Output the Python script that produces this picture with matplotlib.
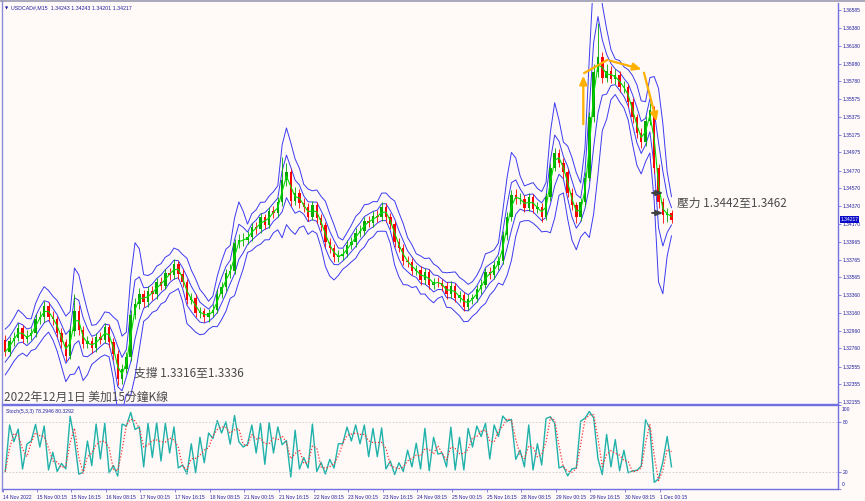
import numpy as np
import pandas as pd
import matplotlib
matplotlib.use('Agg')
import matplotlib.pyplot as plt
import matplotlib.transforms as mtransforms

first_open = 1.3285
closes = [1.3272, 1.3284, 1.3288, 1.3299, 1.3287, 1.3290, 1.3293, 1.3309, 1.3311, 1.3324,
          1.3312, 1.3309, 1.3294, 1.3283, 1.3268, 1.3296, 1.3318, 1.3297, 1.3281, 1.3284,
          1.3276, 1.3289, 1.3286, 1.3300, 1.3283, 1.3270, 1.3241, 1.3253, 1.3266, 1.3314,
          1.3326, 1.3338, 1.3328, 1.3341, 1.3337, 1.3351, 1.3347, 1.3361, 1.3359, 1.3371,
          1.3360, 1.3351, 1.3331, 1.3333, 1.3316, 1.3318, 1.3311, 1.3316, 1.3320, 1.3338,
          1.3345, 1.3361, 1.3364, 1.3395, 1.3398, 1.3399, 1.3402, 1.3413, 1.3411, 1.3424,
          1.3416, 1.3431, 1.3429, 1.3441, 1.3466, 1.3475, 1.3443, 1.3452, 1.3440, 1.3436,
          1.3425, 1.3438, 1.3423, 1.3415, 1.3396, 1.3390, 1.3379, 1.3381, 1.3383, 1.3393,
          1.3396, 1.3407, 1.3409, 1.3420, 1.3418, 1.3426, 1.3424, 1.3436, 1.3424, 1.3417,
          1.3396, 1.3390, 1.3375, 1.3374, 1.3364, 1.3365, 1.3353, 1.3362, 1.3348, 1.3351,
          1.3350, 1.3347, 1.3337, 1.3347, 1.3333, 1.3336, 1.3323, 1.3332, 1.3332, 1.3343,
          1.3348, 1.3362, 1.3359, 1.3370, 1.3375, 1.3404, 1.3424, 1.3449, 1.3445, 1.3445,
          1.3435, 1.3447, 1.3434, 1.3436, 1.3425, 1.3447, 1.3480, 1.3497, 1.3486, 1.3475,
          1.3452, 1.3438, 1.3424, 1.3441, 1.3469, 1.3537, 1.3588, 1.3605, 1.3582, 1.3590,
          1.3581, 1.3585, 1.3571, 1.3571, 1.3554, 1.3537, 1.3520, 1.3509, 1.3533, 1.3546,
          1.3480, 1.3441, 1.3427, 1.3429, 1.34217]
highs = [1.3291, 1.3289, 1.3295, 1.3305, 1.3303, 1.3297, 1.3299, 1.3315, 1.3318, 1.3330,
         1.3329, 1.3318, 1.3313, 1.3299, 1.3287, 1.3301, 1.3338, 1.3325, 1.3301, 1.3290,
         1.3289, 1.3294, 1.3295, 1.3305, 1.3304, 1.3288, 1.3274, 1.3258, 1.3272, 1.3319,
         1.3333, 1.3344, 1.3342, 1.3346, 1.3347, 1.3356, 1.3357, 1.3366, 1.3367, 1.3377,
         1.3375, 1.3366, 1.3354, 1.3339, 1.3337, 1.3323, 1.3322, 1.3321, 1.3326, 1.3343,
         1.3351, 1.3366, 1.3371, 1.3400, 1.3405, 1.3406, 1.3409, 1.3418, 1.3419, 1.3429,
         1.3428, 1.3436, 1.3437, 1.3447, 1.3492, 1.3486, 1.3479, 1.3458, 1.3456, 1.3446,
         1.3440, 1.3443, 1.3442, 1.3428, 1.3419, 1.3401, 1.3394, 1.3387, 1.3389, 1.3398,
         1.3402, 1.3412, 1.3415, 1.3425, 1.3426, 1.3431, 1.3432, 1.3442, 1.3440, 1.3429,
         1.3420, 1.3401, 1.3394, 1.3381, 1.3378, 1.3370, 1.3369, 1.3367, 1.3366, 1.3356,
         1.3357, 1.3355, 1.3351, 1.3352, 1.3350, 1.3341, 1.3340, 1.3337, 1.3338, 1.3348,
         1.3354, 1.3367, 1.3368, 1.3375, 1.3381, 1.3409, 1.3430, 1.3455, 1.3456, 1.3452,
         1.3449, 1.3452, 1.3451, 1.3442, 1.3440, 1.3452, 1.3486, 1.3503, 1.3501, 1.3491,
         1.3479, 1.3457, 1.3442, 1.3446, 1.3475, 1.3543, 1.3598, 1.3644, 1.3611, 1.3597,
         1.3595, 1.3592, 1.3589, 1.3578, 1.3575, 1.3559, 1.3541, 1.3525, 1.3539, 1.3553,
         1.3550, 1.3485, 1.3446, 1.3435, 1.3432]
lows = [1.3267, 1.3268, 1.3279, 1.3284, 1.3282, 1.3282, 1.3285, 1.3289, 1.3304, 1.3306,
        1.3307, 1.3302, 1.3289, 1.3276, 1.3262, 1.3264, 1.3290, 1.3291, 1.3276, 1.3276,
        1.3271, 1.3272, 1.3281, 1.3282, 1.3278, 1.3263, 1.3235, 1.3236, 1.3248, 1.3262,
        1.3309, 1.3321, 1.3323, 1.3323, 1.3331, 1.3332, 1.3342, 1.3343, 1.3353, 1.3354,
        1.3355, 1.3345, 1.3326, 1.3326, 1.3311, 1.3310, 1.3306, 1.3306, 1.3311, 1.3316,
        1.3333, 1.3341, 1.3356, 1.3360, 1.3389, 1.3392, 1.3394, 1.3397, 1.3405, 1.3406,
        1.3411, 1.3412, 1.3423, 1.3424, 1.3437, 1.3460, 1.3437, 1.3438, 1.3435, 1.3430,
        1.3420, 1.3421, 1.3418, 1.3409, 1.3391, 1.3384, 1.3374, 1.3374, 1.3376, 1.3379,
        1.3388, 1.3391, 1.3402, 1.3404, 1.3413, 1.3413, 1.3419, 1.3420, 1.3419, 1.3411,
        1.3391, 1.3385, 1.3370, 1.3368, 1.3359, 1.3359, 1.3348, 1.3349, 1.3343, 1.3343,
        1.3345, 1.3341, 1.3332, 1.3333, 1.3328, 1.3328, 1.3318, 1.3319, 1.3326, 1.3328,
        1.3338, 1.3344, 1.3354, 1.3354, 1.3365, 1.3371, 1.3399, 1.3420, 1.3439, 1.3439,
        1.3430, 1.3431, 1.3429, 1.3429, 1.3419, 1.3421, 1.3443, 1.3476, 1.3481, 1.3469,
        1.3447, 1.3432, 1.3418, 1.3420, 1.3437, 1.3465, 1.3532, 1.3583, 1.3576, 1.3577,
        1.3576, 1.3575, 1.3566, 1.3565, 1.3549, 1.3531, 1.3514, 1.3503, 1.3505, 1.3528,
        1.3474, 1.3435, 1.3418, 1.3419, 1.3418]

price_ticks = [1.36585, 1.36380, 1.36180, 1.35980, 1.35780, 1.35575, 1.35375, 1.35175,
               1.34975, 1.34770, 1.34570, 1.34370, 1.34170, 1.33965, 1.33765, 1.33565,
               1.33360, 1.33160, 1.32960, 1.32760, 1.32555, 1.32355, 1.32155]
time_labels = ['15 Nov 00:15', '15 Nov 16:15', '16 Nov 08:15', '17 Nov 00:15', '17 Nov 16:15',
               '18 Nov 08:15', '21 Nov 00:15', '21 Nov 16:15', '22 Nov 08:15', '23 Nov 00:15',
               '23 Nov 16:15', '24 Nov 08:15', '25 Nov 00:15', '25 Nov 16:15', '28 Nov 08:15',
               '29 Nov 00:15', '29 Nov 16:15', '30 Nov 08:15', '1 Dec 00:15']

BARS = 8          # M15 bars per drawn candle
FIRST_LABEL = 62  # bar index of 15 Nov 00:15
LABEL_STEP = 64

bg = '#fffaf8'
axcol = '#7070e0'
txtcol = '#2020a0'
cjk = ['Noto Sans CJK TC', 'DejaVu Sans']

c = pd.Series(closes)
h = pd.Series(highs)
l = pd.Series(lows)
o = c.shift(1).fillna(first_open)
n = len(c)
x = np.arange(n) * BARS + BARS / 2

# bands from high/low/close of the last 3 candles
hlc = np.column_stack([highs, lows, closes])
mid = c.rolling(2, min_periods=1).mean().values
sd = np.array([hlc[max(0, i - 2):i + 1].std() for i in range(n)])
ma = c.rolling(2, min_periods=1).mean()

# stochastic: close position inside each candle's range, so it swings like the M15 one
k = 100 * (c - l) / (h - l)
d = k.rolling(2, min_periods=1).mean()

fig = plt.figure(figsize=(8.65, 5.01), dpi=100, facecolor=bg)
W, H = 865, 501
left, right = 2, 838
ax = fig.add_axes([left / W, (H - 404) / H, (right - left) / W, 401 / H], facecolor=bg)
ax2 = fig.add_axes([left / W, (H - 489) / H, (right - left) / W, 84 / H], facecolor=bg, sharex=ax)

# candles
up = c >= o
col = np.where(up, '#00a800', '#ff0000')
ax.vlines(x, l, h, colors=col, lw=0.6, zorder=3)
ax.bar(x, (c - o).abs().clip(lower=0.00008), bottom=np.minimum(o, c), width=4.5,
       color=col, lw=0, zorder=3)
ax.plot(x, ma, color='#00e000', lw=0.8, zorder=4)

# blue bands
for m in (1.1, 2.5):
    ax.plot(x, mid + m * sd, color='#3a3af0', lw=0.7, zorder=2)
    ax.plot(x, mid - m * sd, color='#3a3af0', lw=0.7, zorder=2)

ax.set_xlim(-2, (right - left) / 0.5415)
ax.set_ylim(1.32132, 1.36664)
ax.yaxis.tick_right()
ax.set_yticks(price_ticks)
ax.set_yticklabels([f'{p:.5f}' for p in price_ticks])
ax.tick_params(axis='y', length=2, width=0.6, colors=axcol, labelcolor=txtcol,
               labelsize=3.6, pad=1.5)
ax.tick_params(axis='x', bottom=False, labelbottom=False)
for s in ('left', 'top'):
    ax.spines[s].set_visible(False)
for s in ('right', 'bottom'):
    ax.spines[s].set_color(axcol)
    ax.spines[s].set_linewidth(1.0)
for t in ax.get_yticklabels():
    t.set_family('Liberation Sans')

# current price box
tr = mtransforms.blended_transform_factory(ax.transAxes, ax.transData)
ax.text(1.003, closes[-1], f'{closes[-1]:.5f}', transform=tr, fontsize=3.6, color='white',
        family='Liberation Sans', va='center', ha='left', zorder=10,
        bbox=dict(boxstyle='square,pad=0.15', fc='#0a0ac8', ec='none'))

# header
fig.text(5 / W, 1 - 8 / H, '\u25bc', fontsize=3, color='#1010a0', va='center')
fig.text(11 / W, 1 - 7.5 / H, 'USDCAD#,M15  1.34243 1.34243 1.34201 1.34217', fontsize=3.8,
         color=txtcol, va='center', family='Liberation Sans')

# orange trend arrows
def pb(px):
    return (px - left) / 0.5415

def py(pix):
    return 1.36698 - 0.000113 * pix

orange = '#ffb000'
head = '-|>,head_length=0.5,head_width=0.22'
ax.annotate('', xy=(pb(583), py(73)), xytext=(pb(583), py(127)),
            arrowprops=dict(arrowstyle=head, color=orange, lw=1.6), zorder=6)
ax.plot([pb(584), pb(607)], [py(73), py(60)], color=orange, lw=1.6, zorder=6)
ax.annotate('', xy=(pb(644), py(70)), xytext=(pb(607), py(60)),
            arrowprops=dict(arrowstyle=head, color=orange, lw=1.6), zorder=6)
ax.annotate('', xy=(pb(657), py(124)), xytext=(pb(643), py(70)),
            arrowprops=dict(arrowstyle=head, color=orange, lw=1.6), zorder=6)

# gray resistance arrows
for yy in (193, 213):
    ax.annotate('', xy=(pb(666), py(yy)), xytext=(pb(649), py(yy)),
                arrowprops=dict(arrowstyle='-|>,head_length=0.4,head_width=0.15',
                                color='#404040', lw=1.4), zorder=7)

ax.text(pb(677), py(203), '壓力 1.3442至1.3462', fontsize=8.5, color='#4a4a4a', family=cjk,
        va='center', ha='left', zorder=8)
ax.text(pb(133), py(373), '支撐 1.3316至1.3336', fontsize=8.5, color='#4a4a4a', family=cjk,
        va='center', ha='left', zorder=8)
ax.text(pb(3), py(397), '2022年12月1日 美加15分鐘K線', fontsize=8.5, color='#4a4a4a', family=cjk,
        va='center', ha='left', zorder=8)

# stochastic panel
ax2.plot(x, k, color='#20b2aa', lw=1.0)
ax2.plot(x, d, color='#ff3030', lw=0.9, ls=(0, (1, 1.5)))
for lv in (20, 80):
    ax2.axhline(lv, color='#c8c8c8', lw=0.6, ls=(0, (2, 2)))
ax2.set_ylim(0, 100)
ax2.yaxis.tick_right()
ax2.set_yticks([0, 20, 80, 100])
ax2.set_yticklabels(['', '20', '80', ''])
ax2.tick_params(axis='y', length=2, width=0.6, colors=axcol, labelcolor=txtcol,
                labelsize=3.6, pad=1.5)
tr2 = mtransforms.blended_transform_factory(ax2.transAxes, ax2.transData)
for val, lab in ((95, '100'), (5, '0')):
    ax2.text(1.0 + 3.5 / (right - left), val, lab, transform=tr2, fontsize=3.6, color=txtcol,
             va='center', ha='left', family='Liberation Sans')
ax2.set_xticks([0] + [FIRST_LABEL + LABEL_STEP * i for i in range(len(time_labels))])
ax2.set_xticklabels(['14 Nov 2022'] + time_labels, ha='left')
ax2.tick_params(axis='x', length=2.5, width=0.6, colors=axcol, labelcolor=txtcol,
                labelsize=3.6, pad=1.5)
for t in ax2.get_xticklabels() + ax2.get_yticklabels():
    t.set_family('Liberation Sans')
ax2.spines['left'].set_visible(False)
for s in ('right', 'bottom', 'top'):
    ax2.spines[s].set_color(axcol)
    ax2.spines[s].set_linewidth(1.0)
ax2.text(4 / (right - left), 0.95, 'Stoch(5,3,3) 78.2946 80.3292', transform=ax2.transAxes,
         fontsize=3.7, color=txtcol, va='top', ha='left', family='Liberation Sans')

# window frame
fig.add_artist(plt.Line2D([1.5 / W, 1.5 / W], [0.02, 1], transform=fig.transFigure,
                          color='#8a8ad8', lw=1.0))
fig.add_artist(plt.Line2D([0, 1], [1 - 0.8 / H, 1 - 0.8 / H], transform=fig.transFigure,
                          color='#9a9ab0', lw=1.2))

fig.savefig('out.png', dpi=100, facecolor=bg)
